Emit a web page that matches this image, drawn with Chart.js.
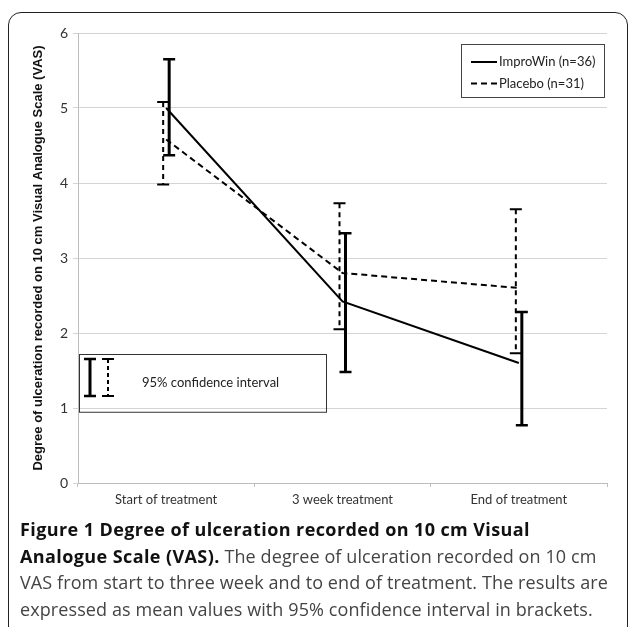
<!DOCTYPE html>
<html>
<head>
<meta charset="utf-8">
<script src="https://cdn.jsdelivr.net/npm/chart.js@4.4.1/dist/chart.umd.min.js"></script>
<style>
  html, body { margin: 0; padding: 0; background: #fff; width: 629px; height: 627px; overflow: hidden; }
  #frame { position: absolute; left: 8px; top: 12px; width: 620px; height: 800px; box-sizing: border-box;
           border: 1.5px solid #222; border-radius: 13px; }
  #c { position: absolute; left: 0; top: 0; }
  #caption { position: absolute; left: 20px; top: 516px; font-family: "Open Sans", sans-serif; font-size: 18px;
             line-height: 26.7px; color: #444; white-space: nowrap; letter-spacing: 0.1px; }
  #caption b { color: #111; font-weight: 700; letter-spacing: 0.4px; }
</style>
</head>
<body>
<div id="frame"></div>
<canvas id="c" width="629" height="520"></canvas>
<div id="caption">
  <div><b>Figure 1 Degree of ulceration recorded on 10 cm Visual</b></div>
  <div><b>Analogue Scale (VAS).</b> The degree of ulceration recorded on 10 cm</div>
  <div>VAS from start to three week and to end of treatment. The results are</div>
  <div>expressed as mean values with 95% confidence interval in brackets.</div>
</div>
<script>
// ---- data ----
const categories = ["Start of treatment", "3 week treatment", "End of treatment"];
const yTicks = [0, 1, 2, 3, 4, 5, 6];
const improwinLabel = "ImproWin (n=36)";
const improwinMean  = [5.0, 2.42, 1.6];
const improwinUpper = [5.65, 3.33, 2.28];
const improwinLower = [4.37, 1.48, 0.77];
const placeboLabel = "Placebo (n=31)";
const placeboMean  = [4.58, 2.8, 2.6];
const placeboUpper = [5.08, 3.73, 3.65];
const placeboLower = [3.98, 2.05, 1.73];
const insetText = "95% confidence interval";

const FONT = "Lato, 'Open Sans', sans-serif";

const errorBarPlugin = {
  id: 'errorBars',
  afterDatasetsDraw(chart) {
    const ctx = chart.ctx;
    const y = chart.scales.y;
    chart.data.datasets.forEach((ds, di) => {
      const meta = chart.getDatasetMeta(di);
      const eb = ds.errorBar;
      meta.data.forEach((pt, i) => {
        const x = pt.x + eb.shift;
        const yt = y.getPixelForValue(eb.upper[i]);
        const yb = y.getPixelForValue(eb.lower[i]);
        ctx.save();
        ctx.strokeStyle = '#000';
        ctx.lineWidth = eb.width;
        ctx.setLineDash(eb.dash);
        ctx.beginPath(); ctx.moveTo(x, yt); ctx.lineTo(x, yb); ctx.stroke();
        ctx.setLineDash([]);
        ctx.lineWidth = eb.capWidth;
        ctx.beginPath();
        ctx.moveTo(x - eb.cap, yt); ctx.lineTo(x + eb.cap, yt);
        ctx.moveTo(x - eb.cap, yb); ctx.lineTo(x + eb.cap, yb);
        ctx.stroke();
        ctx.restore();
      });
    });
  },
  afterDraw(chart) {
    const ctx = chart.ctx;
    const a = chart.chartArea;
    const ys = chart.scales.y;
    // legend box
    ctx.save();
    const lx = a.right - 146, ly = a.top + 11, lw = 143, lh = 53;
    ctx.fillStyle = '#fff';
    ctx.fillRect(lx, ly, lw, lh);
    ctx.strokeStyle = '#444'; ctx.lineWidth = 1;
    ctx.strokeRect(lx + 0.5, ly + 0.5, lw, lh);
    ctx.font = "13px " + FONT;
    ctx.fillStyle = '#222';
    ctx.textBaseline = 'middle';
    chart.data.datasets.forEach((ds, i) => {
      const yy = ly + 18 + i * 21.5;
      ctx.strokeStyle = '#000';
      ctx.lineWidth = 2;
      ctx.setLineDash(ds.borderDash || []);
      ctx.beginPath(); ctx.moveTo(lx + 10, yy); ctx.lineTo(lx + 36, yy); ctx.stroke();
      ctx.setLineDash([]);
      ctx.fillText(ds.label, lx + 38, yy);
    });
    ctx.restore();
    // inset box
    ctx.save();
    const bx = a.left + 1, by = ys.getPixelForValue(1.72), bw = 247, bh = ys.getPixelForValue(0.95) - by;
    ctx.strokeStyle = '#333'; ctx.lineWidth = 1;
    ctx.strokeRect(bx + 0.5, by + 0.5, bw, bh);
    const top = by + 5, bot = by + 42;
    ctx.strokeStyle = '#000';
    ctx.lineWidth = 3;
    ctx.beginPath(); ctx.moveTo(bx + 11, top); ctx.lineTo(bx + 11, bot); ctx.stroke();
    ctx.lineWidth = 2.5;
    ctx.beginPath(); ctx.moveTo(bx + 5, top); ctx.lineTo(bx + 17, top); ctx.moveTo(bx + 5, bot); ctx.lineTo(bx + 17, bot); ctx.stroke();
    ctx.lineWidth = 2;
    ctx.setLineDash([4, 3]);
    ctx.beginPath(); ctx.moveTo(bx + 29, top); ctx.lineTo(bx + 29, bot); ctx.stroke();
    ctx.setLineDash([]);
    ctx.beginPath(); ctx.moveTo(bx + 23, top); ctx.lineTo(bx + 35, top); ctx.moveTo(bx + 23, bot); ctx.lineTo(bx + 35, bot); ctx.stroke();
    ctx.font = "13px " + FONT;
    ctx.fillStyle = '#222';
    ctx.textBaseline = 'middle';
    ctx.fillText(insetText, bx + 63, by + 29);
    ctx.restore();
  }
};

new Chart(document.getElementById('c'), {
  type: 'line',
  data: {
    labels: categories,
    datasets: [
      {
        label: improwinLabel,
        data: improwinMean,
        borderColor: '#000',
        borderWidth: 2,
        pointRadius: 0,
        tension: 0,
        fill: false,
        errorBar: { upper: improwinUpper, lower: improwinLower, shift: 3, width: 3, capWidth: 2.5, cap: 6, dash: [] }
      },
      {
        label: placeboLabel,
        data: placeboMean,
        borderColor: '#000',
        borderWidth: 2,
        borderDash: [6, 4],
        pointRadius: 0,
        tension: 0,
        fill: false,
        errorBar: { upper: placeboUpper, lower: placeboLower, shift: -3, width: 2, capWidth: 2, cap: 6, dash: [5, 4] }
      }
    ]
  },
  options: {
    responsive: false,
    animation: false,
    layout: { padding: { left: 0, top: 33, right: 22, bottom: 0 } },
    plugins: { legend: { display: false }, tooltip: { enabled: false } },
    scales: {
      x: {
        type: 'category',
        offset: true,
        grid: { display: true, offset: true, drawOnChartArea: false, tickLength: 4, color: '#bdbdbd' },
        border: { display: true, color: '#bdbdbd' },
        ticks: { font: { family: FONT, size: 13 }, color: '#333', padding: 5, maxRotation: 0 },
        afterFit(s) { s.height = 37; }
      },
      y: {
        min: 0, max: 6,
        afterBuildTicks(s) { s.ticks = yTicks.map(v => ({ value: v })); },
        grid: { color: '#d4d4d4', tickLength: 5 },
        border: { display: true, color: '#bdbdbd' },
        ticks: { font: { family: FONT, size: 14 }, color: '#333', padding: 5 },
        title: {
          display: true,
          text: "Degree of ulceration recorded on 10 cm Visual Analogue Scale (VAS)",
          font: { family: "'Liberation Sans', Arial, sans-serif", size: 13, weight: 'bold' },
          color: '#111',
          padding: { top: 31, bottom: 0 }
        },
        afterFit(s) { s.width = 78; }
      }
    }
  },
  plugins: [errorBarPlugin]
});
</script>
</body>
</html>
